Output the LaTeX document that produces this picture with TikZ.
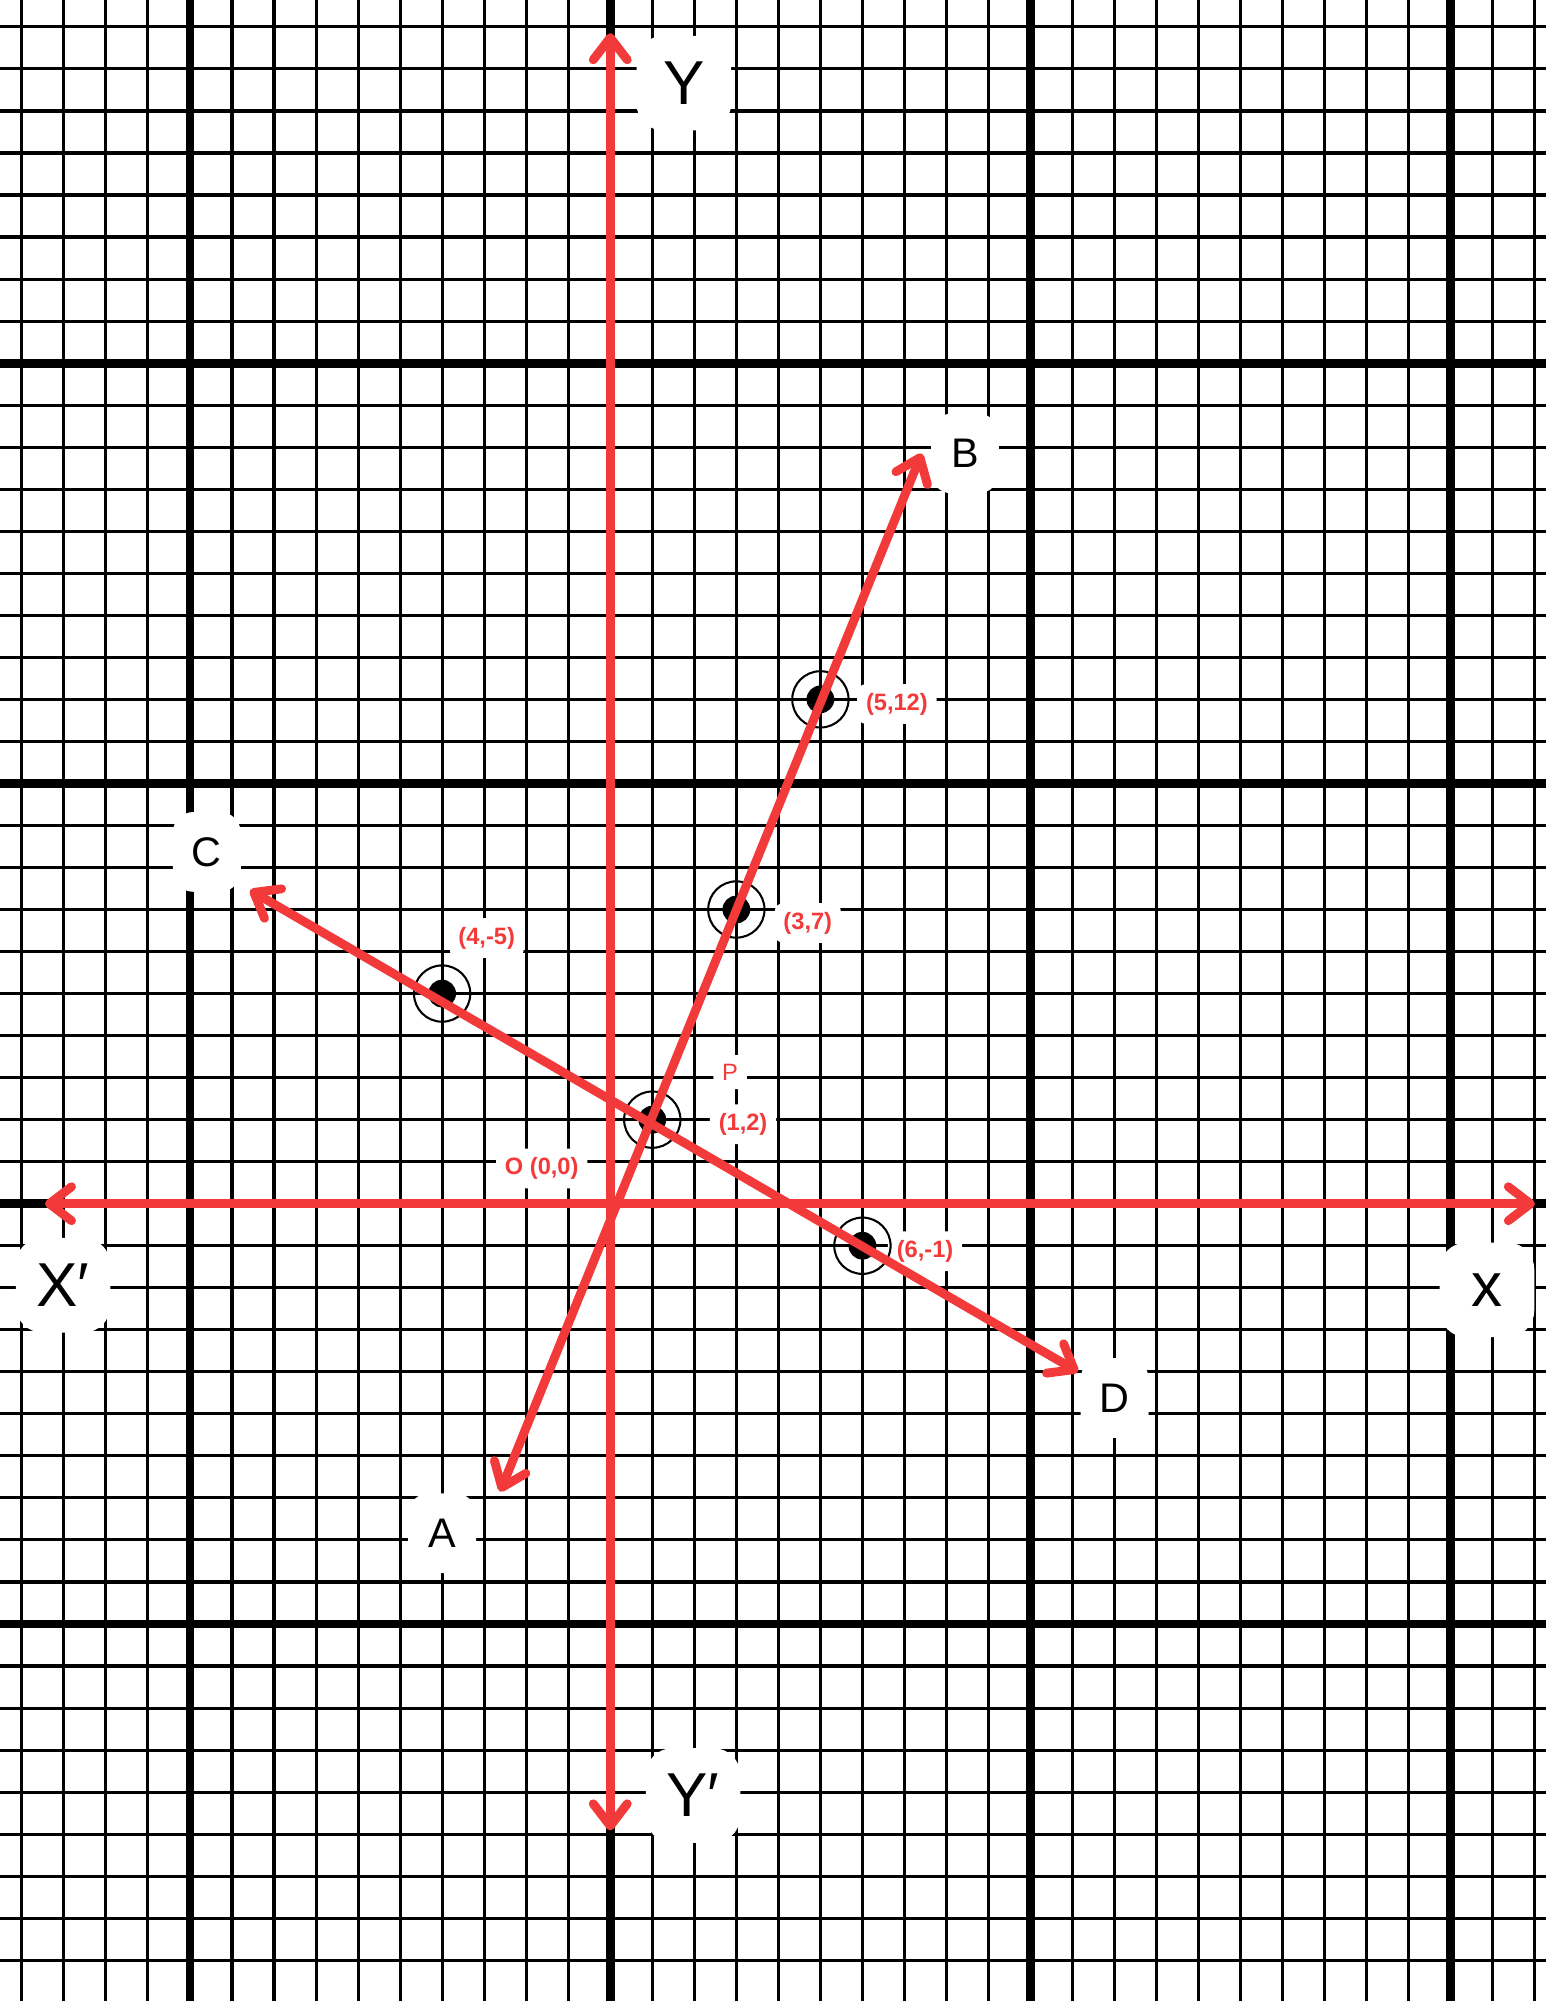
\documentclass[tikz,border=0pt]{standalone}
\usepackage{fontspec}
\setmainfont{Liberation Sans}
\usetikzlibrary{arrows.meta}
\definecolor{penred}{RGB}{243,58,58}

\begin{document}
\begin{tikzpicture}[scale=0.5,
  >={Straight Barb[length=7.5pt,width=11.5pt,round]},
  redline/.style={draw=penred,line width=3pt,line cap=round,<->},
  biglab/.style={fill=white,rounded corners=9pt,minimum width=32pt,minimum height=32pt,inner sep=4pt,font=\fontsize{21}{24}\selectfont},
  midlab/.style={fill=white,rounded corners=7pt,minimum width=23pt,minimum height=27pt,inner sep=3pt,font=\fontsize{14}{17}\selectfont},
  ptlab/.style={fill=white,rounded corners=3pt,inner sep=3pt,text=penred,font=\fontsize{8}{9}\selectfont\bfseries},
  ring/.style={draw=black,line width=0.7pt}]
\useasboundingbox (-14.52,-18.97) rectangle (22.26,28.64);
% graph paper
\begin{scope}
\clip (-14.52,-18.97) rectangle (22.26,28.64);
\fill[white] (-14.52,-18.97) rectangle (22.26,28.64);
\foreach \i in {-15,...,23}
  \draw[line width=1.05pt] (\i,-19) -- (\i,29);
\foreach \j in {-19,...,29}
  \draw[line width=1.05pt] (-15,\j) -- (23,\j);
\foreach \v in {-10,0,10,20} {
  \draw[line width=3pt] (\v,-19) -- (\v,29);
  \draw[line width=3pt] (-15,\v) -- (23,\v);
}
\end{scope}

% labels
\node[biglab] (lY) at (1.75,26.66) {Y};
\node[biglab] (lYp) at (1.97,-14.08) {Y′};
\node[biglab] (lXp) at (-13.02,-1.94) {X′};
\node[biglab] (lx) at (20.86,-2.05) {x};
\node[midlab] (lA) at (-4.0,-7.84) {A};
\node[midlab] (lB) at (8.44,17.85) {B};
\node[midlab] (lC) at (-9.6,8.37) {C};
\node[midlab] (lD) at (12.0,-4.62) {D};
\node[ptlab] (l512) at (6.82,11.89) {(5,12)};
\node[ptlab] (l37) at (4.7,6.68) {(3,7)};
\node[ptlab] (l45) at (-2.94,6.32) {(4,-5)};
\node[ptlab] (l12) at (3.16,1.89) {(1,2)};
\node[ptlab,font=\fontsize{8}{9}\selectfont] (lP) at (2.85,3.13) {P};
\node[ptlab] (lO) at (-1.63,0.84) {O (0,0)};
\node[ptlab] (l61) at (7.49,-1.13) {(6,-1)};

% marked points
\foreach \p in {(1,2),(3,7),(5,12),(-4,5),(6,-1)} {
  \fill \p circle (0.33);
  \draw[ring] \p circle (0.67);
}

% axes and lines
\coordinate (Xl) at (-13.45,0);
\coordinate (Xr) at (22.0,0);
\coordinate (Yt) at (0,27.85);
\coordinate (Yb) at (0,-14.91);
\coordinate (Atip) at (-2.62,-6.85);
\coordinate (Btip) at (7.41,17.85);
\coordinate (Ctip) at (-8.57,7.46);
\coordinate (Dtip) at (11.13,-4.0);
\draw[redline] (Xl) -- (Xr);
\draw[redline] (Yb) -- (Yt);
\draw[redline] (Atip) -- (Btip);
\draw[redline] (Ctip) -- (Dtip);
\end{tikzpicture}
\end{document}
